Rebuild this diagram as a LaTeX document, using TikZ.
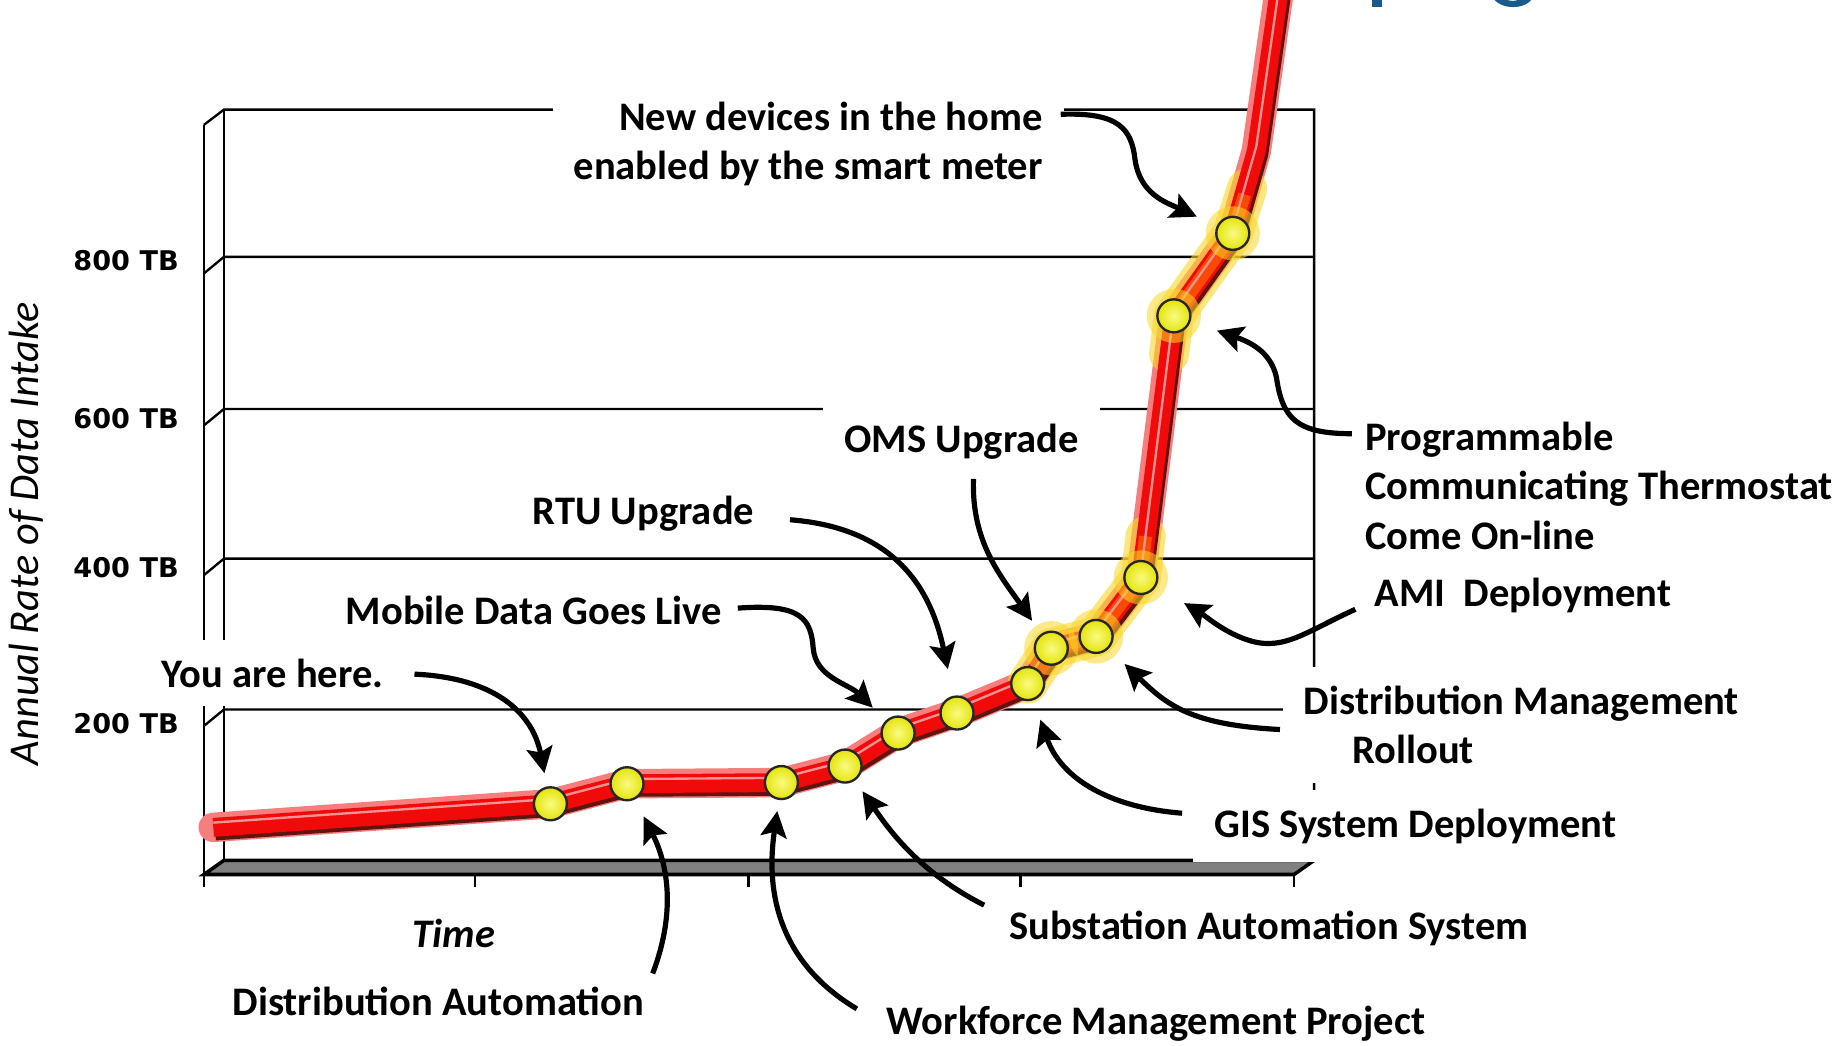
\documentclass[tikz,border=0pt]{standalone}
\usepackage{fontspec}
\setmainfont{Carlito}
\newfontfamily\tickfont{DejaVu Sans}
\usetikzlibrary{arrows.meta,positioning,calc}

\definecolor{trendred}{RGB}{240,10,10}
\definecolor{trendglow}{RGB}{248,125,125}
\definecolor{trendshadow}{RGB}{95,20,15}
\definecolor{hotglow}{RGB}{250,215,40}
\definecolor{dotin}{RGB}{250,250,130}
\definecolor{dotout}{RGB}{228,228,10}
\definecolor{titleblue}{RGB}{25,90,140}

\tikzset{
  lbl/.style={font=\bfseries\fontsize{17.2}{21}\selectfont, fill=white, inner xsep=9pt, inner ysep=8pt},
  callout/.style={line width=2.2pt, -{Stealth[length=11pt,width=11pt,inset=2pt]}},
  dot/.style={circle, draw=black!85, line width=1pt, inner color=dotin, outer color=dotout, minimum size=14pt, inner sep=0pt},
  halo/.style={circle, fill=hotglow, opacity=.55, minimum size=23pt, inner sep=0pt},
  wall/.style={line width=1pt},
  tbl/.style={font=\tickfont\bfseries\fontsize{11.5}{13}\selectfont, anchor=east, inner sep=0pt},
}

\begin{document}
\begin{tikzpicture}[x=0.5pt, y=-0.5pt]
  \useasboundingbox (0,0) rectangle (1568,887);

  % cut-off title at the top edge
  \fill[titleblue] (1164,-3) rectangle (1173,6);
  \fill[titleblue] (1266,-3) .. controls (1272,9) and (1296,9) .. (1301,-3) -- (1292,-3) .. controls (1289,2) and (1278,2) .. (1275,-3) -- cycle;

  % chart box
  \draw[wall] (173,106) -- (190,93) -- (1115,93) -- (1115,730);
  \draw[wall] (190,93) -- (190,730);
  \draw[wall] (173,106) -- (173,753);
  \foreach \g in {218,347,474,602}
    \draw[wall] (173,{\g+14}) -- (190,\g) -- (1115,\g);
  \draw[line width=1.5pt, fill=gray] (190,730) -- (1115,730) -- (1098,742) -- (173,742) -- cycle;
  \foreach \t in {403,635,866,1098}
    \draw[wall] (\t,742) -- (\t,753);

  % axis texts
  \node[tbl] (t800) at (152,221) {800 TB};
  \node[tbl] (t600) at (152,355) {600 TB};
  \node[tbl] (t400) at (152,482) {400 TB};
  \node[tbl] (t200) at (152,614) {200 TB};
  \node[rotate=90, font=\itshape\fontsize{18}{21}\selectfont] (ytitle) at (22,453) {Annual Rate of Data Intake};
  \node[font=\bfseries\itshape\fontsize{17.2}{21}\selectfont] (time) at (385,792) {Time};

  % labels
  \node[lbl, anchor=east, align=right] (newdev) at (903,122) {New devices in the home\\enabled by the smart meter};
  \node[lbl, anchor=west, align=left] (prog) at (1140,412) {Programmable\\Communicating Thermostat\\Come On-line};
  \node[lbl] (oms) at (816,375) {OMS Upgrade};
  \node[lbl] (rtu) at (546,436) {RTU Upgrade};
  \node[lbl, anchor=west] (mobile) at (275,518) {Mobile Data Goes Live};
  \node[lbl, anchor=west] (here) at (119,571) {You are here.};
  \node[lbl, anchor=west] (ami) at (1148,505) {AMI\ \ Deployment};
  \node[lbl, anchor=west, align=left] (dmr) at (1088,615) {Distribution Management\\\hspace*{20.5pt}Rollout};
  \node[lbl, anchor=west] (gis) at (1012,701) {GIS System Deployment};
  \node[lbl, anchor=west] (subst) at (838,788) {Substation Automation System};
  \node[lbl, anchor=west] (work) at (734,869) {Workforce Management Project};
  \node[lbl, anchor=west] (dauto) at (179,850) {Distribution Automation};

  % trend line
  \coordinate (p0) at (181,702);
  \foreach \x/\y [count=\i] in {467/682, 532/665, 663/664, 717/650, 762/622, 812/605,
                               872/580, 892/550, 930/540, 968/490, 996/268, 1046/198}
    \coordinate (p\i) at (\x,\y);
  \coordinate (p13) at (1066,128);
  \coordinate (p14) at (1086,-12);
  \def\trend{(p0) -- (p1) -- (p2) -- (p3) -- (p4) -- (p5) -- (p6) -- (p7) -- (p8) -- (p9) -- (p10) -- (p11) -- (p12) -- (p13) -- (p14)}

  \draw[line width=12.5pt, trendglow, line join=round, line cap=round] \trend;
  \draw[line width=17pt, hotglow, opacity=.6, line join=round, line cap=round] (p7) -- (p8) -- (p9) -- (p10) -- (972,455);
  \draw[line width=17pt, hotglow, opacity=.6, line join=round, line cap=round] (992,300) -- (p11) -- (p12) -- (1058,160);
  \draw[line width=8.5pt, trendshadow, line join=round, transform canvas={xshift=0.8pt, yshift=-1.3pt}] \trend;
  \draw[line width=8pt, trendred, line join=round] \trend;
  \draw[line width=5.5pt, orange!80!red, opacity=.7, line join=round] (p8) -- (p9) -- (p10) -- (972,455);
  \draw[line width=5.5pt, orange!80!red, opacity=.7, line join=round] (p11) -- (p12) -- (1056,165);
  \draw[line width=1pt, white!55!trendred, line join=round, transform canvas={yshift=2pt}] \trend;

  \foreach \i in {8,...,12}
    \node[halo] (h\i) at (p\i) {};
  \foreach \i in {1,...,12}
    \node[dot] (m\i) at (p\i) {};

  % callouts
  \draw[callout, shorten >=9.3pt] ([shift={(-3,-25)}]newdev.east) .. controls (950,95) and (960,110) .. (963,135) .. controls (967,165) and (990,172) .. (m12);
  \draw[callout, shorten >=11.8pt] ([shift={(7,-44)}]prog.west) .. controls (1100,368) and (1088,355) .. (1083,320) .. controls (1078,298) and (1060,290) .. (m11);
  \draw[callout, shorten >=6.7pt] ([shift={(10,0)}]oms.south) .. controls (824,460) and (850,490) .. (m8);
  \draw[callout, shorten >=11.5pt] ([shift={(12,5)}]rtu.east) .. controls (760,448) and (790,500) .. (m6);
  \draw[callout, shorten >=7.7pt] ([shift={(-5,-2)}]mobile.east) .. controls (680,512) and (688,525) .. (690,550) .. controls (692,575) and (720,580) .. (m5);
  \draw[callout, shorten >=5.7pt] ([shift={(8,1)}]here.east) .. controls (420,575) and (452,605) .. (m1);
  \draw[callout, shorten >=13.8pt] ([shift={(2,12)}]ami.west) .. controls (1110,535) and (1090,552) .. (1062,544) .. controls (1040,538) and (1022,522) .. (m10);
  \draw[callout, shorten >=9.3pt] ([shift={(-2,4)}]dmr.west) .. controls (1010,615) and (990,598) .. (m9);
  \draw[callout, shorten >=8.7pt] ([shift={(-9,-11)}]gis.west) .. controls (940,685) and (900,660) .. (m7);
  \draw[callout, shorten >=5.5pt] ([shift={(-3,-20)}]subst.west) .. controls (780,740) and (755,705) .. (m4);
  \draw[callout, shorten >=4.7pt] ([shift={(-7,-13)}]work.west) .. controls (650,810) and (652,740) .. (m3);
  \draw[callout, shorten >=8pt] ([shift={(-11,-24)}]dauto.east) .. controls (575,770) and (565,730) .. (m2);
\end{tikzpicture}
\end{document}
